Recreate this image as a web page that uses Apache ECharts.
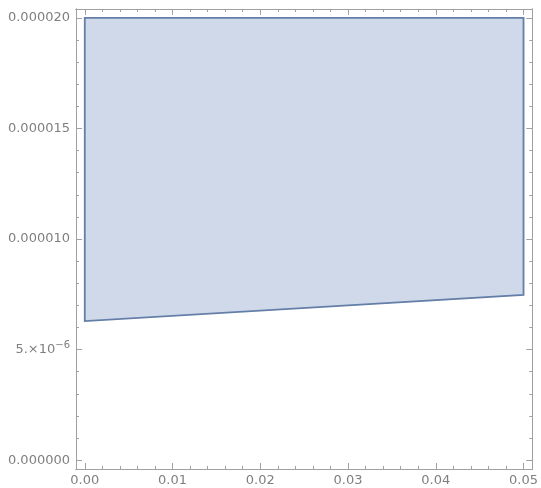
<!DOCTYPE html>
<html>
<head>
<meta charset="utf-8">
<script src="https://cdn.jsdelivr.net/npm/echarts@6/dist/echarts.min.js"></script>
<style>html,body{margin:0;padding:0;background:#fff}#c{width:541px;height:488px}</style>
</head>
<body>
<div id="c"></div>
<script>
// Region vertices (x, y)
const polyX = [0, 0, 0.05, 0.05];
const polyY = [6.29e-6, 2.0e-5, 2.0e-5, 7.47e-6];

// Axis ranges
const xRange = [-0.001, 0.051];
const yRange = [-0.4e-6, 2.04e-5];

// Ticks
const xMajor = [0, 0.01, 0.02, 0.03, 0.04, 0.05];
const xMajorLabels = ['0.00', '0.01', '0.02', '0.03', '0.04', '0.05'];
const xMinor = [0.002,0.004,0.006,0.008,0.012,0.014,0.016,0.018,0.022,0.024,0.026,0.028,0.032,0.034,0.036,0.038,0.042,0.044,0.046,0.048];
const yMajor = [0, 5e-6, 1e-5, 1.5e-5, 2e-5];
const yMajorLabels = ['0.000000', '5.×10{sup|−6}', '0.000010', '0.000015', '0.000020'];
const yMinor = [1e-6,2e-6,3e-6,4e-6,6e-6,7e-6,8e-6,9e-6,11e-6,12e-6,13e-6,14e-6,16e-6,17e-6,18e-6,19e-6];

const axisCol = '#a0a0a0';
const labelCol = '#7f7f7f';
const font = 'DejaVu Sans';

function xAx(pos, values, len, labels) {
  return {
    type: 'value', position: pos, min: xRange[0], max: xRange[1],
    axisLine: {show: true, onZero: false, lineStyle: {color: axisCol, width: 1}},
    axisTick: {show: true, inside: true, length: len, customValues: values, lineStyle: {color: axisCol}},
    axisLabel: labels ? {
      show: true, customValues: xMajor, color: labelCol, fontFamily: font, fontSize: 13, margin: 5,
      formatter: v => { const i = xMajor.findIndex(t => Math.abs(t - v) < 1e-9); return i >= 0 ? xMajorLabels[i] : ''; }
    } : {show: false},
    splitLine: {show: false}
  };
}
function yAx(pos, values, len, labels) {
  return {
    type: 'value', position: pos, min: yRange[0], max: yRange[1],
    axisLine: {show: true, onZero: false, lineStyle: {color: axisCol, width: 1}},
    axisTick: {show: true, inside: true, length: len, customValues: values, lineStyle: {color: axisCol}},
    axisLabel: labels ? {
      show: true, customValues: yMajor, color: labelCol, fontFamily: font, fontSize: 13, margin: 6,
      formatter: v => { const i = yMajor.findIndex(t => Math.abs(t - v) < 1e-12); return i >= 0 ? yMajorLabels[i] : ''; },
      rich: {sup: {fontSize: 10, color: labelCol, fontFamily: font, verticalAlign: 'top', padding: [0, 0, 8, 0]}}
    } : {show: false},
    splitLine: {show: false}
  };
}

const chart = echarts.init(document.getElementById('c'));
chart.setOption({
  animation: false,
  backgroundColor: '#ffffff',
  grid: {left: 76, right: 8, top: 9, bottom: 19},
  xAxis: [
    xAx('bottom', xMajor, 6, true),
    xAx('bottom', xMinor, 3, false),
    xAx('top', xMajor, 6, false),
    xAx('top', xMinor, 3, false)
  ],
  yAxis: [
    yAx('left', yMajor, 6, true),
    yAx('left', yMinor, 3, false),
    yAx('right', yMajor, 6, false),
    yAx('right', yMinor, 3, false)
  ],
  series: [{
    type: 'custom',
    xAxisIndex: 0, yAxisIndex: 0,
    data: polyX.map((x, i) => [x, polyY[i]]),
    renderItem: function (params, api) {
      if (params.dataIndex !== 0) return null;
      const pts = polyX.map((x, i) => api.coord([x, polyY[i]]));
      return {
        type: 'polygon',
        shape: {points: pts},
        style: {fill: '#cfd9e9', stroke: '#647ea8', lineWidth: 1.8}
      };
    }
  }]
});
</script>
</body>
</html>
